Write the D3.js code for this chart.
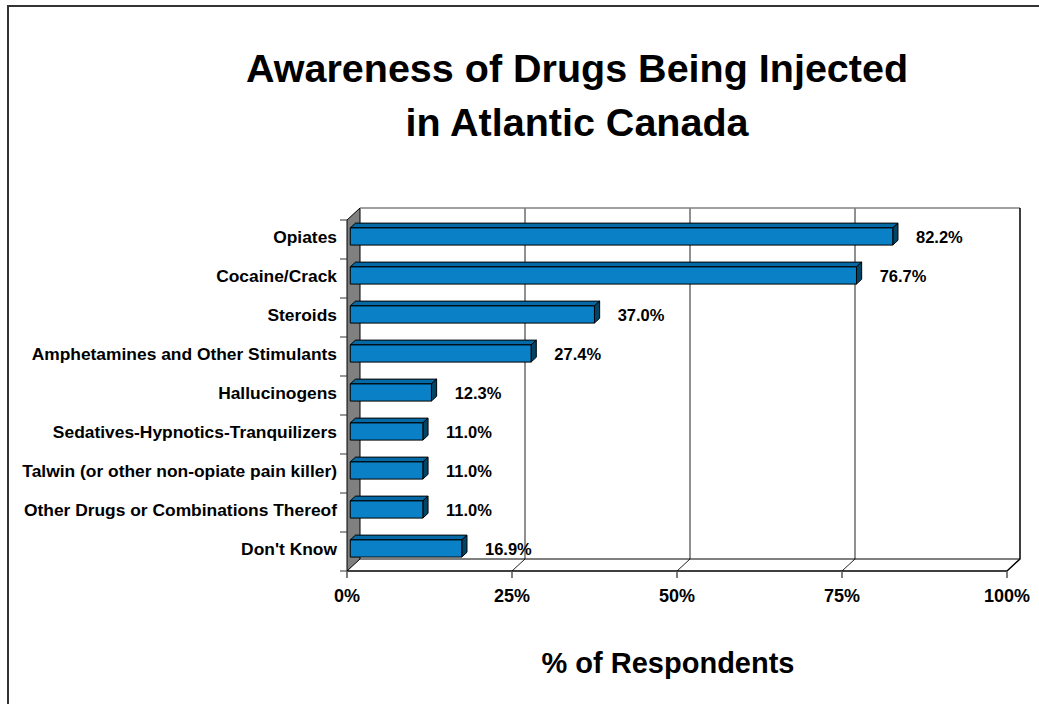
<!DOCTYPE html>
<html>
<head>
<meta charset="utf-8">
<script src="https://cdn.jsdelivr.net/npm/d3@7"></script>
<style>
  html, body { margin: 0; padding: 0; background: #fff; }
  svg { display: block; font-family: Arial, "Liberation Sans", sans-serif; }
</style>
</head>
<body>
<svg id="chart" width="1039" height="704"></svg>
<script>
// Survey results: drugs respondents know are being injected
const categories = [
  "Opiates",
  "Cocaine/Crack",
  "Steroids",
  "Amphetamines and Other Stimulants",
  "Hallucinogens",
  "Sedatives-Hypnotics-Tranquilizers",
  "Talwin (or other non-opiate pain killer)",
  "Other Drugs or Combinations Thereof",
  "Don't Know"
];
const values = [82.2, 76.7, 37.0, 27.4, 12.3, 11.0, 11.0, 11.0, 16.9];
const tickValues = [0, 25, 50, 75, 100];
const tickLabels = ["0%", "25%", "50%", "75%", "100%"];
const titleLines = ["Awareness of Drugs Being Injected", "in Atlantic Canada"];
const axisTitle = "% of Respondents";

const svg = d3.select("#chart");

// Layout of the 3-D plot box
const front = { left: 347, right: 1007, top: 220, bottom: 571 };
const depthX = 13, depthY = 12;          // oblique offset of the back wall
const barDepth0 = 0.25, barDepth1 = 0.65; // bar occupies this slice of depth

const x = d3.scaleLinear().domain([0, 100]).range([front.left, front.right]);
const y = d3.scaleBand().domain(categories).range([front.top, front.bottom]).padding(0);

// project (value, yFront, depth fraction) to screen
const P = (v, yy, d) => [x(v) + depthX * d, yy - depthY * d];
const pts = arr => arr.map(p => p.join(",")).join(" ");

// Outer chart border
svg.append("rect")
  .attr("x", 8).attr("y", 6).attr("width", 1100).attr("height", 800)
  .attr("fill", "none").attr("stroke", "#333").attr("stroke-width", 2);

// Title
svg.append("g").selectAll("text").data(titleLines).join("text")
  .attr("x", 577).attr("y", (d, i) => 82 + i * 54)
  .attr("text-anchor", "middle")
  .attr("font-size", 39.5).attr("font-weight", "bold").attr("fill", "#000")
  .text(d => d);

const plot = svg.append("g");

// Floor (white)
plot.append("polygon")
  .attr("points", pts([P(0, front.bottom, 0), P(0, front.bottom, 1), P(100, front.bottom, 1), P(100, front.bottom, 0)]))
  .attr("fill", "#fff").attr("stroke", "none");

// Side wall (grey)
plot.append("polygon")
  .attr("points", pts([P(0, front.top, 0), P(0, front.top, 1), P(0, front.bottom, 1), P(0, front.bottom, 0)]))
  .attr("fill", "#808080").attr("stroke", "#000").attr("stroke-width", 1);

// Back wall gridlines and floor gridlines
tickValues.slice(1, -1).forEach(t => {
  const a = P(t, front.top, 1), b = P(t, front.bottom, 1), c = P(t, front.bottom, 0);
  plot.append("polyline")
    .attr("points", pts([a, b, c]))
    .attr("fill", "none").attr("stroke", "#222").attr("stroke-width", 1);
});

// Back wall top edge (grey), right edge and floor back edge (black)
{
  const tl = P(0, front.top, 1), tr = P(100, front.top, 1), br = P(100, front.bottom, 1), fr = P(100, front.bottom, 0);
  plot.append("line").attr("x1", tl[0]).attr("y1", tl[1]).attr("x2", tr[0]).attr("y2", tr[1])
    .attr("stroke", "#808080").attr("stroke-width", 1.5);
  plot.append("polyline").attr("points", pts([tr, br, fr]))
    .attr("fill", "none").attr("stroke", "#000").attr("stroke-width", 1.5);
  const bl = P(0, front.bottom, 1);
  plot.append("line").attr("x1", bl[0]).attr("y1", bl[1]).attr("x2", br[0]).attr("y2", br[1])
    .attr("stroke", "#000").attr("stroke-width", 1);
}

// Category axis ticks on the front-left edge
plot.append("g").selectAll("line")
  .data(d3.range(categories.length + 1))
  .join("line")
  .attr("x1", front.left - 7).attr("x2", front.left)
  .attr("y1", i => front.top + i * y.step()).attr("y2", i => front.top + i * y.step())
  .attr("stroke", "#333").attr("stroke-width", 1);

// Value axis line, ticks and labels
plot.append("line")
  .attr("x1", x(0)).attr("x2", x(100)).attr("y1", front.bottom).attr("y2", front.bottom)
  .attr("stroke", "#000").attr("stroke-width", 1.5);
plot.append("g").selectAll("line").data(tickValues).join("line")
  .attr("x1", d => x(d)).attr("x2", d => x(d))
  .attr("y1", front.bottom).attr("y2", front.bottom + 7)
  .attr("stroke", "#555").attr("stroke-width", 1.5);
plot.append("g").selectAll("text").data(tickValues).join("text")
  .attr("x", d => x(d)).attr("y", front.bottom + 30.5)
  .attr("text-anchor", "middle")
  .attr("font-size", 18).attr("font-weight", "bold")
  .text((d, i) => tickLabels[i]);

// Bars, drawn as 3-D boxes
const barFrac = 0.44;
const bars = plot.append("g").selectAll("g").data(categories).join("g");
bars.each(function (c, i) {
  const g = d3.select(this);
  const v = values[i];
  const bh = y.bandwidth() * barFrac;
  const yt = y(c) + (y.bandwidth() - bh) / 2;
  const yb = yt + bh;
  const f = [P(0, yt, barDepth0), P(v, yt, barDepth0), P(v, yb, barDepth0), P(0, yb, barDepth0)];
  const top = [P(0, yt, barDepth0), P(0, yt, barDepth1), P(v, yt, barDepth1), P(v, yt, barDepth0)];
  const side = [P(v, yt, barDepth0), P(v, yt, barDepth1), P(v, yb, barDepth1), P(v, yb, barDepth0)];
  g.append("polygon").attr("points", pts(top)).attr("fill", "#0569A6").attr("stroke", "#000").attr("stroke-width", 1).attr("stroke-linejoin", "round");
  g.append("polygon").attr("points", pts(side)).attr("fill", "#004466").attr("stroke", "#000").attr("stroke-width", 1).attr("stroke-linejoin", "round");
  g.append("polygon").attr("points", pts(f)).attr("fill", "#0A80C6").attr("stroke", "#000").attr("stroke-width", 1).attr("stroke-linejoin", "round");
  // value label
  g.append("text")
    .attr("x", P(v, 0, barDepth1)[0] + 18)
    .attr("y", (yt + yb) / 2 - depthY * barDepth0 + 6)
    .attr("font-size", 16.5).attr("font-weight", "bold")
    .text(v.toFixed(1) + "%");
});

// Category labels
plot.append("g").selectAll("text").data(categories).join("text")
  .attr("x", 337)
  .attr("y", c => y(c) + y.bandwidth() / 2 + 3.5)
  .attr("text-anchor", "end")
  .attr("font-size", 17.4).attr("font-weight", "bold")
  .text(c => c);

// Value axis title
svg.append("text")
  .attr("x", 668).attr("y", 673)
  .attr("text-anchor", "middle")
  .attr("font-size", 29).attr("font-weight", "bold")
  .text(axisTitle);
</script>
</body>
</html>
